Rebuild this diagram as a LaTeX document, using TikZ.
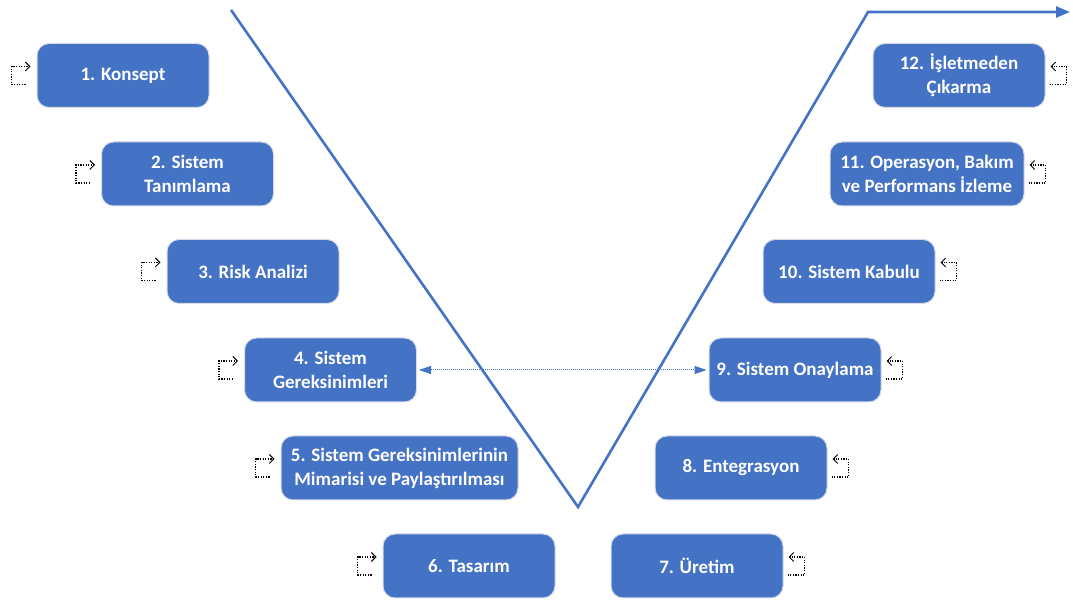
\documentclass[tikz,border=0pt]{standalone}
\usepackage{fontspec}
\setmainfont{Carlito}[BoldFont={Carlito Bold}]
\usetikzlibrary{arrows.meta}
\definecolor{vblue}{HTML}{4472C4}
\definecolor{edgegrey}{HTML}{D5DCE8}
\begin{document}
\begin{tikzpicture}[x=1pt,y=1pt,
  stage/.style={rectangle, rounded corners=12pt, fill=vblue, draw=edgegrey, line width=1pt,
    minimum width=172pt, minimum height=64pt, inner sep=2pt, align=center, text=white,
    font=\fontsize{19}{24}\selectfont\bfseries},
  loopicon/.style={black, dash pattern=on 1.2pt off 1.4pt, line width=1.1pt,
    -{Straight Barb[length=4.5pt,width=9pt,line width=1pt]}},
  vline/.style={vblue, line width=2.6pt, line join=miter},
  link/.style={vblue, densely dotted, line width=1pt,
    {Triangle[length=12pt,width=8pt]}-{Triangle[length=12pt,width=8pt]}}
]
\useasboundingbox (0,0) rectangle (1073,604);

% the V outline with the outgoing arrow
\draw[vline, -{Triangle[length=14pt,width=11pt]}]
  (231,594) -- (578,97) -- (868,592) -- (1070,592);

% left arm stages
\node[stage] (b1) at (123,528.5) {1. Konsept};
\node[stage] (b2) at (187.5,430) {2. Sistem\\Tanımlama};
\node[stage] (b3) at (253,332.5) {3. Risk Analizi};
\node[stage] (b4) at (330.5,234) {4. Sistem\\Gereksinimleri};
\node[stage, minimum width=237pt] (b5) at (399.5,136) {5. Sistem Gereksinimlerinin\\Mimarisi ve Paylaştırılması};
\node[stage] (b6) at (469,38) {6. Tasarım};

% right arm stages
\node[stage] (b7) at (697,38) {7. Üretim};
\node[stage] (b8) at (741,136) {8. Entegrasyon};
\node[stage] (b9) at (795,234) {9. Sistem Onaylama};
\node[stage] (b10) at (849,332.5) {10. Sistem Kabulu};
\node[stage, minimum width=194pt] (b11) at (927,430) {11. Operasyon, Bakım\\ve Performans İzleme};
\node[stage] (b12) at (959,528.5) {12. İşletmeden\\Çıkarma};

% requirements / validation link
\draw[link, shorten <=2pt, shorten >=2pt] (b4.east) -- (b9.west);

% small loop markers beside each stage
\foreach \n in {b1,b2,b3,b4,b5,b6}{
  \draw[loopicon] ([shift={(-11,-9)}]\n.west) -- ++(-14,0) -- ++(0,18) -- ++(19,0);
}
\foreach \n in {b7,b8,b9,b10,b11,b12}{
  \draw[loopicon] ([shift={(4,-9)}]\n.east) -- ++(17,0) -- ++(0,18) -- ++(-16,0);
}
\end{tikzpicture}
\end{document}
